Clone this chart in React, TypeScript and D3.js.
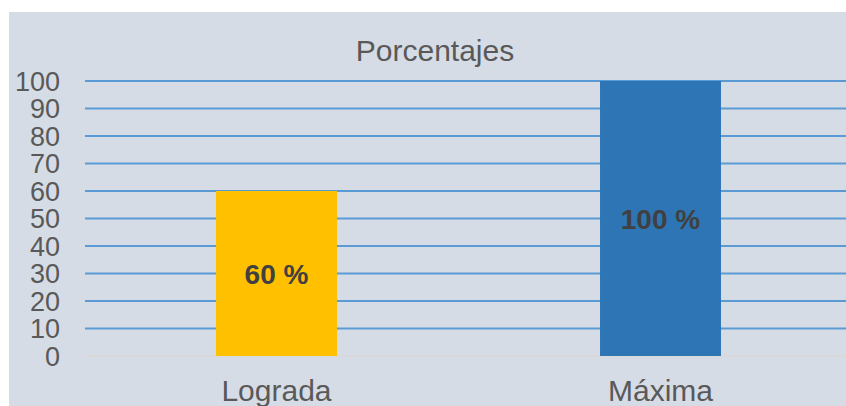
import React, { useEffect, useRef } from 'react';
import * as d3 from 'd3';

const categories = ['Lograda', 'Máxima'];
const values = [60, 100];
const barColors = ['#FFC000', '#2E75B6'];
const valueLabels = ['60 %', '100 %'];
const yTicks = [0, 10, 20, 30, 40, 50, 60, 70, 80, 90, 100];

const App: React.FC = () => {
  const svgRef = useRef<SVGSVGElement>(null);

  useEffect(() => {
    if (!svgRef.current) return;
    const width = 846;
    const height = 406;
    const font = '"Liberation Sans", Arial, sans-serif';
    const svg = d3.select(svgRef.current);
    svg.selectAll('*').remove();
    svg.attr('width', width).attr('height', height);

    // panel background
    svg.append('rect')
      .attr('x', 9)
      .attr('y', 12)
      .attr('width', width - 9)
      .attr('height', height - 12)
      .attr('fill', '#D6DCE5');

    const x = d3.scaleBand<string>()
      .domain(categories)
      .range([84.5, 852.5])
      .padding(0);
    const y = d3.scaleLinear().domain([0, 100]).range([356, 81]);
    const barW = x.bandwidth() * 0.315;

    // gridlines
    svg.append('g')
      .selectAll('line')
      .data(yTicks)
      .join('line')
      .attr('x1', 85)
      .attr('x2', width)
      .attr('y1', d => y(d))
      .attr('y2', d => y(d))
      .attr('stroke', d => (d === 0 ? '#D9D9D9' : '#5B9BD5'))
      .attr('stroke-width', 2);

    // y labels
    svg.append('g')
      .selectAll('text')
      .data(yTicks)
      .join('text')
      .attr('x', 60)
      .attr('y', d => y(d))
      .attr('dy', '0.36em')
      .attr('text-anchor', 'end')
      .style('font-family', font)
      .style('font-size', '27px')
      .style('fill', '#595959')
      .text(d => d);

    // bars
    svg.append('g')
      .selectAll('rect')
      .data(values)
      .join('rect')
      .attr('x', (d, i) => x(categories[i])! + x.bandwidth() / 2 - barW / 2)
      .attr('y', d => y(d))
      .attr('width', barW)
      .attr('height', d => y(0) - y(d))
      .attr('fill', (d, i) => barColors[i]);

    // value labels
    svg.append('g')
      .selectAll('text')
      .data(values)
      .join('text')
      .attr('x', (d, i) => x(categories[i])! + x.bandwidth() / 2)
      .attr('y', d => (y(d) + y(0)) / 2)
      .attr('dy', '0.36em')
      .attr('text-anchor', 'middle')
      .style('font-family', font)
      .style('font-size', '28px')
      .style('font-weight', 'bold')
      .style('fill', '#404040')
      .text((d, i) => valueLabels[i]);

    // category labels
    svg.append('g')
      .selectAll('text')
      .data(categories)
      .join('text')
      .attr('x', d => x(d)! + x.bandwidth() / 2)
      .attr('y', 390)
      .attr('dy', '0.36em')
      .attr('text-anchor', 'middle')
      .style('font-family', font)
      .style('font-size', '30px')
      .style('fill', '#595959')
      .text(d => d);

    // title
    svg.append('text')
      .attr('x', 435)
      .attr('y', 50)
      .attr('dy', '0.36em')
      .attr('text-anchor', 'middle')
      .style('font-family', font)
      .style('font-size', '30px')
      .style('fill', '#595959')
      .text('Porcentajes');
  }, []);

  return (
    <div style={{ position: 'absolute', left: 0, top: 0 }}>
      <svg ref={svgRef} style={{ display: 'block' }} />
    </div>
  );
};

export default App;
